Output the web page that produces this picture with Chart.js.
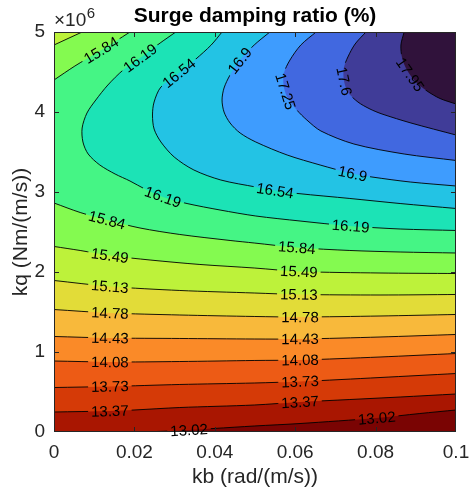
<!DOCTYPE html>
<html>
<head>
<meta charset="utf-8">
<title>Surge damping ratio (%)</title>
<script src="https://cdn.jsdelivr.net/npm/chart.js@4.4.1/dist/chart.umd.min.js"></script>
<style>
html,body{margin:0;padding:0;background:#ffffff;}
#wrap{position:relative;width:470px;height:496px;}
</style>
</head>
<body>
<div id="wrap"><canvas id="chart"></canvas></div>
<script>
// ---------------- data (kb in rad/(m/s), kq in units of 10^6 Nm/(m/s)) ----------------
const X_MIN = 0, X_MAX = 0.1, Y_MIN = 0, Y_MAX = 5;
const xTickValues = [0, 0.02, 0.04, 0.06, 0.08, 0.1];
const xTickLabels = ['0', '0.02', '0.04', '0.06', '0.08', '0.1'];
const yTickValues = [0, 1, 2, 3, 4, 5];
const yTickLabels = ['0', '1', '2', '3', '4', '5'];
const levels = [13.02, 13.37, 13.73, 14.08, 14.43, 14.78, 15.13, 15.49, 15.84, 16.19, 16.54, 16.9, 17.25, 17.6, 17.95];
const bandColors = ['#7a0403', '#a91601', '#d53a07', '#ed5b15', '#fa8a28', '#f8b93b', '#e2dc38', '#bdf23a',
                    '#84fa50', '#45f585', '#1ce3b6', '#23c3e4', '#3e9cfe', '#4168e0', '#403c98', '#30123b'];

// contour lines, [kb, kq] pairs
const c1302 = [[0.0214,0],[0.0289,0.0125],[0.0398,0.044],[0.0498,0.075],[0.0612,0.106],[0.0803,0.175],[0.0910,0.231],[0.1,0.275]];
const c1337 = [[0,0.25],[0.0139,0.2625],[0.0199,0.275],[0.0313,0.306],[0.0498,0.3375],[0.0612,0.375],[0.0736,0.406],[0.0861,0.4375],[0.1,0.475]];
const c1373 = [[0,0.556],[0.0139,0.569],[0.0313,0.594],[0.0498,0.6125],[0.0612,0.631],[0.0811,0.681],[0.1,0.731]];
const c1408 = [[0,0.8875],[0.0139,0.875],[0.0313,0.881],[0.0498,0.894],[0.0612,0.9],[0.0811,0.9375],[0.1,0.981]];
const c1443 = [[0,1.194],[0.0139,1.175],[0.0313,1.169],[0.0498,1.1625],[0.0612,1.1625],[0.0811,1.1875],[0.1,1.219]];
const c1478 = [[0,1.531],[0.0139,1.4875],[0.0313,1.4625],[0.0498,1.444],[0.0612,1.4375],[0.0811,1.45],[0.1,1.469]];
const c1513 = [[0,1.894],[0.0139,1.819],[0.0313,1.769],[0.0498,1.7375],[0.0612,1.719],[0.0811,1.7125],[0.1,1.719]];
const c1549 = [[0,2.319],[0.0065,2.269],[0.0139,2.206],[0.0239,2.15],[0.0363,2.094],[0.0498,2.05],[0.0612,2.006],[0.0811,1.9875],[0.1,1.981]];
const c1549top = [[0.007,5],[0.0035,4.919],[0,4.8375]];
const c1584 = [[0,2.8625],[0.0065,2.744],[0.0132,2.65],[0.0214,2.55],[0.0313,2.469],[0.0438,2.394],[0.0498,2.3625],[0.0604,2.306],[0.0736,2.269],[0.0861,2.25],[0.1,2.2375]];
const c1584top = [[0.0189,5],[0.0152,4.881],[0.0114,4.7625],[0.0052,4.575],[0,4.4]];
const c1619 = [[0.0303,5],[0.0264,4.8625],[0.0214,4.675],[0.0172,4.525],[0.0134,4.3375],[0.0104,4.15],[0.0082,3.9875],[0.007,3.8],[0.0072,3.625],[0.0085,3.475],[0.0114,3.3375],[0.0152,3.225],[0.0189,3.1375],[0.0226,3.0375],[0.0271,2.9375],[0.0331,2.856],[0.0413,2.775],[0.0502,2.7],[0.0612,2.6375],[0.0736,2.575],[0.0861,2.5375],[0.1,2.519]];
const c1654 = [[0.0418,5],[0.0391,4.8375],[0.0353,4.6625],[0.0311,4.4875],[0.0266,4.3125],[0.0249,4.125],[0.0245,3.9625],[0.0249,3.7875],[0.0266,3.625],[0.0299,3.4375],[0.0348,3.275],[0.0415,3.15],[0.0502,3.0625],[0.055,3.019],[0.0607,2.981],[0.0736,2.919],[0.0861,2.856],[0.1,2.794]];
const c1690 = [[0.0537,5],[0.0498,4.8375],[0.0463,4.65],[0.0438,4.4625],[0.0423,4.3],[0.0418,4.15],[0.0423,4.0],[0.0438,3.8625],[0.0463,3.7375],[0.0502,3.625],[0.058,3.4625],[0.0662,3.3375],[0.0741,3.231],[0.0791,3.1875],[0.0886,3.125],[0.1,3.075]];
const c1725 = [[0.0652,5],[0.0614,4.8375],[0.0587,4.65],[0.0572,4.4875],[0.0571,4.3375],[0.058,4.1875],[0.0604,4.025],[0.0629,3.9],[0.0664,3.7625],[0.0746,3.6],[0.0871,3.475],[0.1,3.394]];
const c1760 = [[0.0776,5],[0.0749,4.85],[0.0731,4.6875],[0.0721,4.55],[0.0721,4.4],[0.0731,4.25],[0.0756,4.125],[0.0786,4.0375],[0.0816,3.975],[0.0888,3.8625],[0.1,3.7125]];
const c1795 = [[0.0871,5],[0.0863,4.8375],[0.0866,4.675],[0.0878,4.525],[0.09,4.375],[0.0928,4.2625],[0.096,4.169],[0.1,4.1]];

// inline contour labels: [level, kb, kq]
const labelSpots = [
  [13.02,0.0336,0.0125],[13.02,0.0803,0.175],
  [13.37,0.0139,0.256],[13.37,0.0612,0.375],
  [13.73,0.0139,0.5625],[13.73,0.0612,0.631],
  [14.08,0.0139,0.869],[14.08,0.0612,0.894],
  [14.43,0.0139,1.169],[14.43,0.0612,1.159],
  [14.78,0.0139,1.484],[14.78,0.0612,1.431],
  [15.13,0.0139,1.819],[15.13,0.0609,1.719],
  [15.49,0.0139,2.206],[15.49,0.0609,2.0],
  [15.84,0.0132,2.65],[15.84,0.0604,2.306],[15.84,0.0117,4.775],
  [16.19,0.0214,4.675],[16.19,0.0271,2.9375],[16.19,0.0738,2.575],
  [16.54,0.0311,4.4875],[16.54,0.055,3.019],
  [16.9,0.0463,4.6375],[16.9,0.0743,3.231],
  [17.25,0.0587,4.275],
  [17.6,0.0734,4.406],
  [17.95,0.0888,4.475]
];

const branches = [
  {level:13.02, pts:c1302}, {level:13.37, pts:c1337}, {level:13.73, pts:c1373},
  {level:14.08, pts:c1408}, {level:14.43, pts:c1443}, {level:14.78, pts:c1478},
  {level:15.13, pts:c1513},
  {level:15.49, pts:c1549}, {level:15.49, pts:c1549top},
  {level:15.84, pts:c1584}, {level:15.84, pts:c1584top},
  {level:16.19, pts:c1619}, {level:16.54, pts:c1654}, {level:16.9, pts:c1690},
  {level:17.25, pts:c1725}, {level:17.6, pts:c1760}, {level:17.95, pts:c1795}
];

// ---------------- construction ----------------
const FONT = "'Liberation Sans', Arial, Helvetica, sans-serif";
const LABEL_FONT = "15px " + FONT;
const AXIS_COLOR = '#262626';
const TENSION = 0.3, DX = 0.03, DY = 1.5;
const toXY = a => ({x: a[0], y: a[1]});
const extend = (a, b) => [b[0] + 3 * (b[0] - a[0]), b[1] + 3 * (b[1] - a[1])];

// outline of region "value >= level", closed outside the plot area
function regionOutline(level) {
  const own = branches.filter(b => b.level === level);
  const main = own[0].pts, upper = own[1] ? own[1].pts : null;
  const n = main.length, s = main[0];
  const out = main.slice();
  out.push(extend(main[n - 2], main[n - 1]));
  out.push([X_MAX + DX, Y_MAX + DY]);
  if (s[1] >= Y_MAX) return out;
  if (upper) {
    const m = upper.length;
    out.push(extend(upper[1], upper[0]));
    upper.forEach(p => out.push(p));
    out.push(extend(upper[m - 2], upper[m - 1]));
    out.push([X_MIN - DX, s[1]]);
  } else {
    out.push([X_MIN - DX, Y_MAX + DY]);
    out.push([X_MIN - DX, s[1] <= Y_MIN ? Y_MIN - DY : s[1]]);
  }
  return out;
}

const common = {showLine: true, pointRadius: 0, pointHoverRadius: 0, pointHitRadius: 0,
                capBezierPoints: false, tension: TENSION};
const datasets = [];
datasets.push(Object.assign({}, common, {
  tension: 0,
  data: [[X_MIN - DX, Y_MIN - DY], [X_MAX + DX, Y_MIN - DY], [X_MAX + DX, Y_MAX + DY], [X_MIN - DX, Y_MAX + DY]].map(toXY),
  fill: 'shape', backgroundColor: bandColors[0], borderColor: 'rgba(0,0,0,0)', borderWidth: 0, order: 100
}));
levels.forEach((lv, i) => datasets.push(Object.assign({}, common, {
  data: regionOutline(lv).map(toXY),
  fill: 'shape', backgroundColor: bandColors[i + 1], borderColor: 'rgba(0,0,0,0)', borderWidth: 0, order: 99 - i
})));
branches.forEach(b => datasets.push(Object.assign({}, common, {
  data: b.pts.map(toXY), fill: false, borderColor: '#000000', borderWidth: 0.9, order: 0, isContour: true
})));

function layoutLabels(chart) {
  const xs = chart.scales.x, ys = chart.scales.y, ctx = chart.ctx;
  ctx.save();
  ctx.font = LABEL_FONT;
  const res = labelSpots.map(([lev, kb, kq]) => {
    const px = xs.getPixelForValue(kb), py = ys.getPixelForValue(kq);
    let best = null;
    branches.filter(b => b.level === lev).forEach(b => {
      const pp = b.pts.map(p => [xs.getPixelForValue(p[0]), ys.getPixelForValue(p[1])]);
      const cum = [0];
      for (let i = 1; i < pp.length; i++) cum.push(cum[i - 1] + Math.hypot(pp[i][0] - pp[i - 1][0], pp[i][1] - pp[i - 1][1]));
      for (let i = 1; i < pp.length; i++) {
        const ax = pp[i - 1][0], ay = pp[i - 1][1], dx = pp[i][0] - ax, dy = pp[i][1] - ay;
        const L2 = dx * dx + dy * dy || 1;
        let t = ((px - ax) * dx + (py - ay) * dy) / L2;
        t = Math.max(0, Math.min(1, t));
        const qx = ax + t * dx, qy = ay + t * dy, d2 = (qx - px) ** 2 + (qy - py) ** 2;
        if (!best || d2 < best.d2) best = {d2, pp, cum, s: cum[i - 1] + t * (cum[i] - cum[i - 1]), x: qx, y: qy};
      }
    });
    const text = String(lev);
    const w = ctx.measureText(text).width;
    const at = s => {
      const cum = best.cum, pp = best.pp;
      s = Math.max(0, Math.min(cum[cum.length - 1], s));
      for (let i = 1; i < pp.length; i++) {
        if (s <= cum[i] || i === pp.length - 1) {
          const seg = (cum[i] - cum[i - 1]) || 1, t = (s - cum[i - 1]) / seg;
          return [pp[i - 1][0] + t * (pp[i][0] - pp[i - 1][0]), pp[i - 1][1] + t * (pp[i][1] - pp[i - 1][1])];
        }
      }
    };
    const A = at(best.s - w / 2), B = at(best.s + w / 2);
    let a = Math.atan2(B[1] - A[1], B[0] - A[0]);
    if (a > Math.PI / 2) a -= Math.PI;
    if (a < -Math.PI / 2) a += Math.PI;
    return {x: best.x, y: best.y, a, w, text};
  });
  ctx.restore();
  return res;
}

const contourPlugin = {
  id: 'contourExtras',
  beforeDatasetsDraw(chart) {
    chart.$cLabels = layoutLabels(chart);
  },
  beforeDatasetDraw(chart, args) {
    const ds = chart.data.datasets[args.index];
    if (!ds.isContour) return;
    const ctx = chart.ctx;
    ctx.save();
    ctx.beginPath();
    ctx.rect(0, 0, chart.width, chart.height);
    (chart.$cLabels || []).forEach(L => {
      const c = Math.cos(L.a), s = Math.sin(L.a), hw = L.w / 2 + 3, hh = 8;
      [[-hw, -hh], [hw, -hh], [hw, hh], [-hw, hh]].forEach(([u, v], i) => {
        const X = L.x + u * c - v * s, Y = L.y + u * s + v * c;
        if (i) ctx.lineTo(X, Y); else ctx.moveTo(X, Y);
      });
      ctx.closePath();
    });
    ctx.clip('evenodd');
  },
  afterDatasetDraw(chart, args) {
    if (chart.data.datasets[args.index].isContour) chart.ctx.restore();
  },
  afterDatasetsDraw(chart) {
    const ctx = chart.ctx, xs = chart.scales.x, ys = chart.scales.y;
    const {left, top, right, bottom} = chart.chartArea;
    ctx.save();
    // axes box and inward ticks
    ctx.strokeStyle = AXIS_COLOR;
    ctx.lineWidth = 1;
    ctx.strokeRect(left + 0.5, top + 0.5, right - left - 1, bottom - top - 1);
    ctx.beginPath();
    xTickValues.slice(1, -1).forEach(v => {
      const x = Math.round(xs.getPixelForValue(v)) + 0.5;
      ctx.moveTo(x, bottom); ctx.lineTo(x, bottom - 5);
      ctx.moveTo(x, top); ctx.lineTo(x, top + 5);
    });
    yTickValues.slice(1, -1).forEach(v => {
      const y = Math.round(ys.getPixelForValue(v)) + 0.5;
      ctx.moveTo(left, y); ctx.lineTo(left + 5, y);
      ctx.moveTo(right, y); ctx.lineTo(right - 5, y);
    });
    ctx.stroke();
    // exponent label
    ctx.fillStyle = AXIS_COLOR;
    ctx.textAlign = 'left';
    ctx.textBaseline = 'alphabetic';
    ctx.font = '19px ' + FONT;
    ctx.fillText('\u00d710', left, top - 6);
    const w = ctx.measureText('\u00d710').width;
    ctx.font = '15px ' + FONT;
    ctx.fillText('6', left + w + 0.5, top - 14);
    // contour labels
    ctx.fillStyle = '#000000';
    ctx.font = LABEL_FONT;
    ctx.textAlign = 'center';
    ctx.textBaseline = 'middle';
    (chart.$cLabels || []).forEach(L => {
      ctx.save();
      ctx.translate(L.x, L.y);
      ctx.rotate(L.a);
      ctx.fillText(L.text, 0, 1);
      ctx.restore();
    });
    ctx.restore();
  }
};

new Chart(document.getElementById('chart'), {
  type: 'scatter',
  data: {datasets},
  options: {
    responsive: true,
    maintainAspectRatio: false,
    animation: false,
    events: [],
    layout: {padding: {left: 0, right: 14, top: 0, bottom: 0}},
    plugins: {
      legend: {display: false},
      tooltip: {enabled: false},
      title: {
        display: true, text: 'Surge damping ratio (%)', color: '#000000', fullSize: false,
        font: {family: FONT, size: 21, weight: 'bold'}, padding: {top: 3.4, bottom: 3.4}
      }
    },
    scales: {
      x: {
        type: 'linear', position: 'bottom', min: X_MIN, max: X_MAX,
        grid: {display: false, drawTicks: false}, border: {display: false},
        afterBuildTicks: s => { s.ticks = xTickValues.map(v => ({value: v})); },
        ticks: {padding: 9, color: AXIS_COLOR, font: {family: FONT, size: 19}, maxRotation: 0, autoSkip: false,
                callback: (v, i) => xTickLabels[i]},
        title: {display: true, text: 'kb (rad/(m/s))', color: AXIS_COLOR, font: {family: FONT, size: 21},
                padding: {top: 0, bottom: 6}},
        afterFit: s => { s.height = 64; s.paddingLeft = 0; s.paddingRight = 0; }
      },
      y: {
        type: 'linear', position: 'left', min: Y_MIN, max: Y_MAX,
        grid: {display: false, drawTicks: false}, border: {display: false},
        afterBuildTicks: s => { s.ticks = yTickValues.map(v => ({value: v})); },
        ticks: {padding: 9, color: AXIS_COLOR, font: {family: FONT, size: 19}, autoSkip: false,
                callback: (v, i) => yTickLabels[i]},
        title: {display: true, text: 'kq (Nm/(m/s))', color: AXIS_COLOR, font: {family: FONT, size: 21},
                padding: {top: 9, bottom: 0}},
        afterFit: s => { s.width = 54; s.paddingTop = 0; s.paddingBottom = 0; }
      }
    }
  },
  plugins: [contourPlugin]
});
</script>
</body>
</html>
